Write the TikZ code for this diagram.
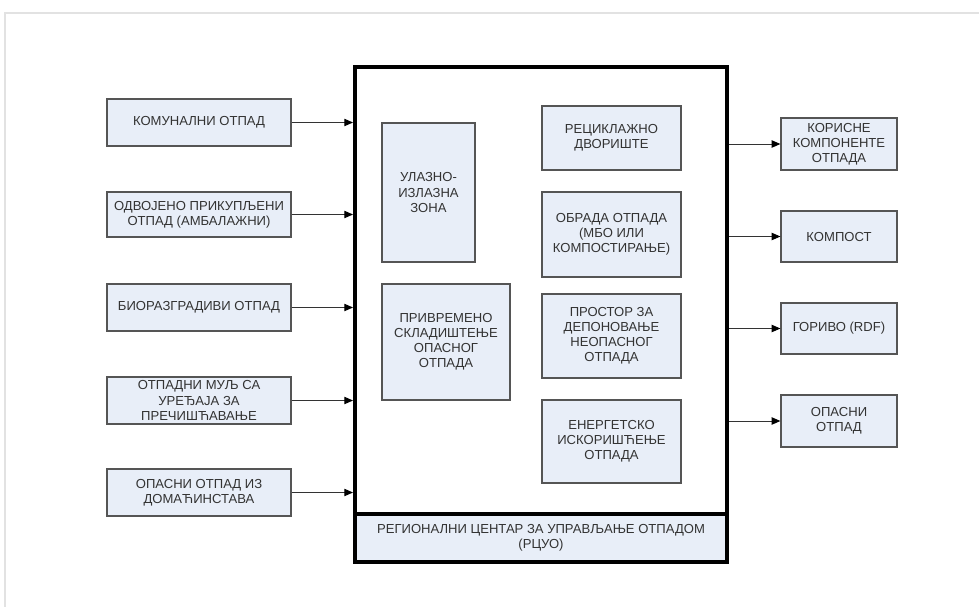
\documentclass[tikz,border=0pt]{standalone}
\usepackage{fontspec}
\setmainfont{Liberation Sans}
\usetikzlibrary{arrows.meta}
\definecolor{boxfill}{HTML}{E8EEF8}
\definecolor{boxline}{HTML}{555555}
\definecolor{txt}{HTML}{333333}
\definecolor{frame}{HTML}{E2E2E2}
\begin{document}
\begin{tikzpicture}[x=0.75pt,y=-0.75pt,
 sz/.style 2 args={minimum width=#1*0.75pt, minimum height=#2*0.75pt},
 box/.style={draw=boxline, line width=0.9pt, fill=boxfill, text=txt, align=center, inner sep=1pt, font=\fontsize{9.8}{11.3}\selectfont},
 mainbox/.style={draw=black, line width=3pt, inner sep=0pt},
 arr/.style={draw=txt, line width=0.7pt, -{Triangle[length=6.5pt,width=5.5pt,color=black]}}
]
\useasboundingbox (0,0) rectangle (979,607);
\draw[frame, line width=1.5pt] (5,607) -- (5,13) -- (979,13);

% main centre
\node[mainbox, sz={372}{495}] (rc) at (541,314.5) {};
\node[mainbox, box, draw=black, line width=3pt, sz={372}{48}] (rcl) at (541,538) {РЕГИОНАЛНИ ЦЕНТАР ЗА УПРАВЉАЊЕ ОТПАДОМ\\(РЦУО)};

% inputs
\node[box, sz={184}{47}] (l1) at (199,122.5) {КОМУНАЛНИ ОТПАД};
\node[box, sz={184}{45}] (l2) at (199,214.5) {ОДВОЈЕНО ПРИКУПЉЕНИ\\ОТПАД (АМБАЛАЖНИ)};
\node[box, sz={184}{47}] (l3) at (199,307.5) {БИОРАЗГРАДИВИ ОТПАД};
\node[box, sz={184}{47}] (l4) at (199,400.5) {ОТПАДНИ МУЉ СА\\УРЕЂАЈА ЗА\\ПРЕЧИШЋАВАЊЕ};
\node[box, sz={184}{47}] (l5) at (199,492.5) {ОПАСНИ ОТПАД ИЗ\\ДОМАЋИНСТАВА};

% inner boxes
\node[box, sz={93}{139}] (uz) at (428.5,192.5) {УЛАЗНО-\\ИЗЛАЗНА\\ЗОНА};
\node[box, sz={128}{116}] (pr) at (446,342) {ПРИВРЕМЕНО\\СКЛАДИШТЕЊЕ\\ОПАСНОГ\\ОТПАДА};
\node[box, sz={139}{64}] (r1) at (611.5,138) {РЕЦИКЛАЖНО\\ДВОРИШТЕ};
\node[box, sz={139}{85}] (r2) at (611.5,234.5) {ОБРАДА ОТПАДА\\(МБО ИЛИ\\КОМПОСТИРАЊЕ)};
\node[box, sz={139}{84}] (r3) at (611.5,336) {ПРОСТОР ЗА\\ДЕПОНОВАЊЕ\\НЕОПАСНОГ\\ОТПАДА};
\node[box, sz={139}{83}] (r4) at (611.5,441.5) {ЕНЕРГЕТСКО\\ИСКОРИШЋЕЊЕ\\ОТПАДА};

% outputs
\node[box, sz={116}{52}] (o1) at (839,144) {КОРИСНЕ\\КОМПОНЕНТЕ\\ОТПАДА};
\node[box, sz={116}{51}] (o2) at (839,236.5) {КОМПОСТ};
\node[box, sz={116}{51}] (o3) at (839,328.5) {ГОРИВО (RDF)};
\node[box, sz={116}{52}] (o4) at (839,421) {ОПАСНИ\\ОТПАД};

% arrows in
\foreach \n in {l1,l2,l3,l4,l5}
  \draw[arr] (\n.east) -- (\n.east -| rc.west);
% arrows out
\foreach \n in {o1,o2,o3,o4}
  \draw[arr] (\n.west -| rc.east) -- (\n.west);
\end{tikzpicture}
\end{document}
